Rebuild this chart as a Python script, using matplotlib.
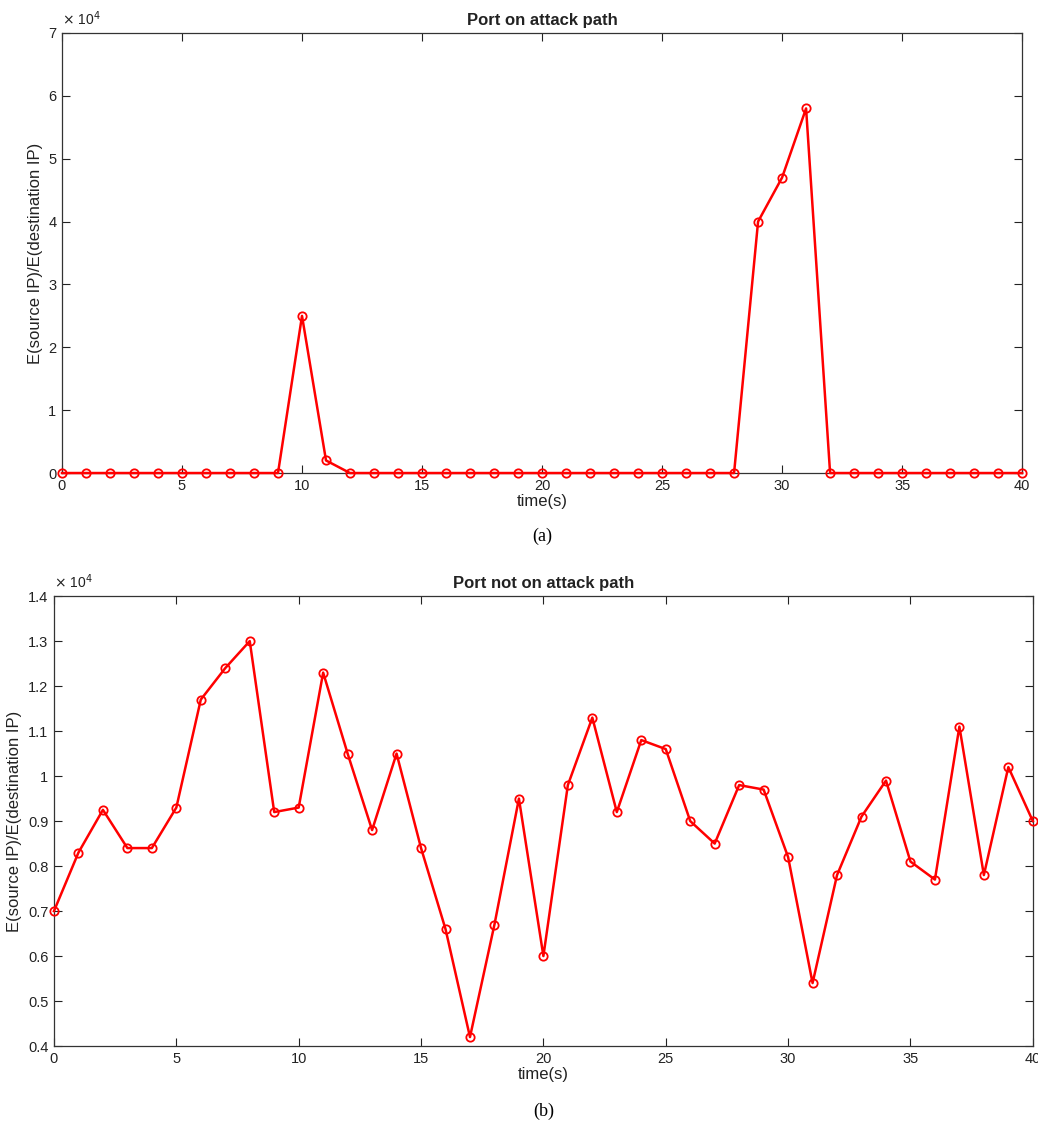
import matplotlib
matplotlib.use('Agg')
import matplotlib.pyplot as plt
from matplotlib.ticker import FuncFormatter

plt.rcParams['font.family'] = ['Liberation Sans', 'DejaVu Sans']

#podatki - vrata na poti napada
t_a = list(range(0, 41))
vals_a = [0, 0, 0, 0, 0, 0, 0, 0, 0, 0, 25000, 2000, 0, 0, 0, 0, 0, 0, 0, 0,
          0, 0, 0, 0, 0, 0, 0, 0, 0, 40000, 47000, 58000, 0, 0, 0, 0, 0, 0, 0, 0, 0]

#podatki - vrata izven poti napada
t_b = list(range(0, 41))
vals_b = [7000, 8300, 9250, 8400, 8400, 9300, 11700, 12400, 13000, 9200, 9300,
          12300, 10500, 8800, 10500, 8400, 6600, 4200, 6700, 9500, 6000, 9800,
          11300, 9200, 10800, 10600, 9000, 8500, 9800, 9700, 8200, 5400, 7800,
          9100, 9900, 8100, 7700, 11100, 7800, 10200, 9000]

xticks = [0, 5, 10, 15, 20, 25, 30, 35, 40]
yticks_a = [0, 10000, 20000, 30000, 40000, 50000, 60000, 70000]
yticks_b = [4000, 5000, 6000, 7000, 8000, 9000, 10000, 11000, 12000, 13000, 14000]

fig = plt.figure(figsize=(10.38, 11.26), dpi=100)
ax1 = fig.add_axes([0.0597, 0.5799, 0.925, 0.3908])
ax2 = fig.add_axes([0.052, 0.0710, 0.943, 0.3996])

def nastavi(ax, t, v, yticks, naslov, crka):
    ax.plot(t, v, '-o', color='red', lw=1.8, markersize=6, markerfacecolor='none',
            markeredgewidth=1.3, clip_on=False, zorder=3)
    ax.set_xlim(0, 40)
    ax.set_ylim(yticks[0], yticks[-1])
    ax.set_xticks(xticks)
    ax.set_yticks(yticks)
    ax.yaxis.set_major_formatter(FuncFormatter(lambda y, p: '%g' % round(y / 1e4, 2)))
    ax.tick_params(direction='in', top=True, right=True, length=6, width=0.8,
                   labelsize=10.5, colors='#222222', pad=4)
    for s in ax.spines.values():
        s.set_color('#333333')
        s.set_linewidth(0.9)
    ax.set_title(naslov, fontsize=12, fontweight='bold', color='#222222', pad=6)
    ax.set_xlabel('time(s)', fontsize=12, color='#222222', labelpad=1)
    ax.set_ylabel('E(source IP)/E(destination IP)', fontsize=12, color='#222222', labelpad=4)
    ax.text(0.0, 1.012, r'$\times$ 10$^4$', transform=ax.transAxes, fontsize=10,
            ha='left', va='bottom', color='#222222')
    ax.text(0.5, -0.125, crka, transform=ax.transAxes, fontsize=13, ha='center',
            va='top', family='Liberation Serif')

nastavi(ax1, t_a, vals_a, yticks_a, 'Port on attack path', '(a)')
nastavi(ax2, t_b, vals_b, yticks_b, 'Port not on attack path', '(b)')

fig.savefig('out.png', dpi=100)
